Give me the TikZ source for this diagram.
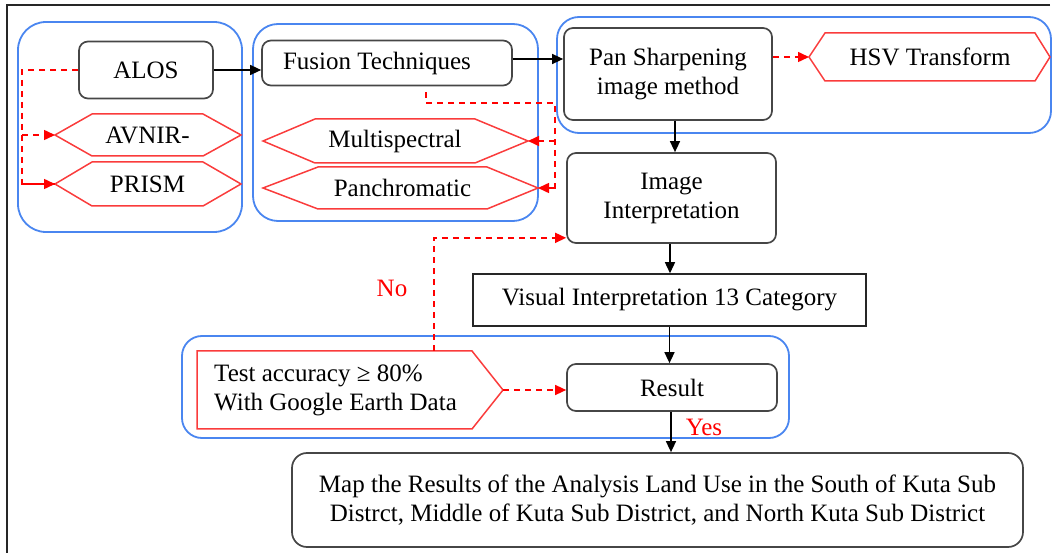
\documentclass[tikz,border=0pt]{standalone}
\usepackage{fontspec}
\setmainfont{Liberation Serif}
\usetikzlibrary{arrows.meta,calc}

\definecolor{grpblue}{RGB}{74,134,240}
\definecolor{hexred}{RGB}{250,60,60}
\definecolor{boxgray}{RGB}{70,70,70}

\tikzset{
  group/.style={draw=grpblue,line width=1.8pt},
  box/.style={draw=boxgray,line width=1.7pt,rounded corners=9pt,align=center,inner sep=0pt,
              font=\fontsize{25}{29}\selectfont},
  plainbox/.style={draw=black!85,line width=1.5pt,align=center,inner sep=0pt,
              font=\fontsize{25}{29}\selectfont},
  hexline/.style={draw=hexred,line width=1.5pt,line join=miter},
  lbl/.style={inner sep=0pt,align=center,font=\fontsize{25}{29}\selectfont},
  flow/.style={draw=black,line width=1.4pt,-{Triangle[length=11pt,width=10pt]}},
  altflow/.style={draw=red,line width=1.5pt,dash pattern=on 6pt off 5pt,-{Triangle[length=11pt,width=10pt]}},
  altline/.style={draw=red,line width=1.5pt,dash pattern=on 6pt off 5pt},
  redtxt/.style={text=red,inner sep=0pt,font=\fontsize{25}{29}\selectfont}
}

% elongated hexagon: name, left tip x, inner left x, inner right x, right tip x, top y, bottom y, text
\newcommand{\hexnode}[8]{%
  \draw[hexline] (#2,{(#6+#7)/2}) -- (#3,#6) -- (#4,#6) -- (#5,{(#6+#7)/2})
                 -- (#4,#7) -- (#3,#7) -- cycle;
  \coordinate (#1-w) at (#2,{(#6+#7)/2});
  \coordinate (#1-e) at (#5,{(#6+#7)/2});
  \node[lbl] (#1) at ({(#3+#4)/2},{(#6+#7)/2}) {#8};
}

\begin{document}
\begin{tikzpicture}[x=1pt,y=-1pt]
\useasboundingbox (0,0) rectangle (1053,553);

% page frame (top and left rules)
\draw[black!85,line width=1.6pt] (1050,5) -- (7,5) -- (7,553);

% grouping frames
\draw[group,rounded corners=28pt] (18,22) rectangle (242,232);
\draw[group,rounded corners=25pt] (253,24) rectangle (538,221);
\draw[group,rounded corners=22pt] (557,17) rectangle (1051,133);
\draw[group,rounded corners=20pt] (182,336) rectangle (789,438);

% process boxes
\node[box,minimum width=134pt,minimum height=57pt] (alos)   at (146,70) {ALOS};
\node[box,minimum width=250pt,minimum height=45pt] (fusion) at (387,63) {\hspace*{-20pt}Fusion Techniques};
\node[box,minimum width=208pt,minimum height=92pt] (pan)    at (668,74)   {Pan Sharpening\\image method};
\node[box,minimum width=209pt,minimum height=90pt] (img)    at (671.5,198) {Image\\Interpretation};
\node[plainbox,minimum width=393pt,minimum height=52pt] (vis) at (669.5,300) {Visual Interpretation 13 Category};
\node[box,minimum width=210pt,minimum height=47pt] (res)    at (672,387.5) {Result};
\node[box,rounded corners=15pt,minimum width=731pt,minimum height=94pt] (map) at (657.5,500)
  {Map the Results of the Analysis Land Use in the South of Kuta Sub\\
   Distrct, Middle of Kuta Sub District, and North Kuta Sub District};

% data / technique hexagons
\hexnode{avnir}{55}{92}{203}{241}{114}{156}{AVNIR-}
\hexnode{prism}{55}{92}{203}{241}{162}{206}{PRISM}
\hexnode{multi}{263}{315}{475}{528}{119}{163}{Multispectral}
\hexnode{panc}{263}{318}{487}{538}{167}{209}{Panchromatic}
\hexnode{hsv}{809}{825}{1035}{1050}{33}{81}{HSV Transform}

% accuracy test
\draw[hexline] (197,351) -- (472,351) -- (503,390) -- (472,429) -- (197,429) -- cycle;
\coordinate (test-e) at (503,390);
\coordinate (test-n) at (434,351);
\node[lbl,align=left,anchor=west] (test) at (214,390) {Test accuracy ≥ 80\%\\With Google Earth Data};

% main flow
\draw[flow] (alos.east) -- (alos.east -| fusion.west);
\draw[flow] ([yshift=4pt]fusion.east) -- ([yshift=4pt]fusion.east -| pan.west);
\draw[flow] ([xshift=7pt]pan.south) -- ([xshift=7pt]pan.south |- img.north);
\draw[flow] ([xshift=-1.5pt]img.south) -- ([xshift=-1.5pt]img.south |- vis.north);
\draw[flow] (vis.south) -- (vis.south |- res.north);
\draw[flow] ([xshift=-1pt]res.south) -- ([xshift=-1pt]res.south |- map.north);

% alternative / feedback branches
\draw[altline] (alos.west) -- (22,70) |- (prism-w);
\draw[altflow] (22,135) -- (avnir-w);
\draw[altflow] (22,184) -- (prism-w);

\draw[altline] ([xshift=39pt,yshift=-6pt]fusion.south) |- (555,103) |- (panc-e);
\draw[altflow] (555,141) -- (multi-e);
\draw[altflow] (555,188) -- (panc-e);

\draw[altflow] (pan.east |- hsv-w) -- (hsv-w);

\draw[altflow] (test-n) |- ([yshift=6pt]img.south west);
\draw[altflow] (test-e) -- (test-e -| res.west);

% decision labels
\node[redtxt] (no)  at (392,288) {No};
\node[redtxt] (yes) at (704,427) {Yes};
\end{tikzpicture}
\end{document}
